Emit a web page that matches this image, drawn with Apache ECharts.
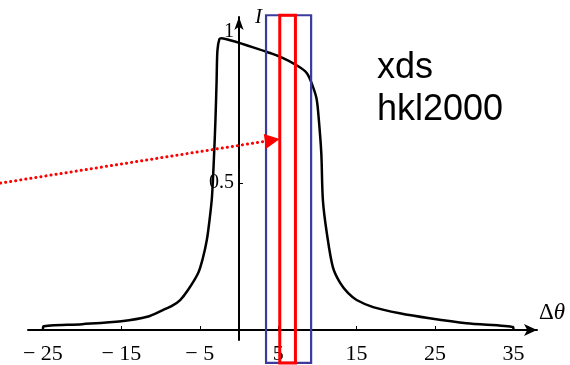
<!DOCTYPE html>
<html><head><meta charset="utf-8">
<script src="https://cdn.jsdelivr.net/npm/echarts@6/dist/echarts.min.js"></script>
<style>html,body{margin:0;padding:0;background:#fff}#c{width:570px;height:365px}</style>
</head><body><div id="c"></div>
<script>
// Rocking curve: intensity I vs delta theta
const curveX = [-25, -24.95, -20, -15, -11.7, -9.7, -8.5, -7.5, -6.5, -5.2, -4.6, -4.1, -3.75, -3.45, -3.2, -3.0, -2.85, -2.75, -2.5, -2.2, -1, 0.13, 2, 3.57, 5.22, 7.4, 8.66, 9.4, 9.9, 10.2, 10.5, 10.7, 11.2, 11.97, 12.9, 13.9, 15.0, 17.1, 20.5, 24.3, 29, 34.95, 35];
const curveY = [0, 0.012, 0.02, 0.03, 0.045, 0.068, 0.083, 0.102, 0.136, 0.194, 0.245, 0.306, 0.375, 0.45, 0.58, 0.714, 0.85, 0.95, 0.99, 0.993, 0.985, 0.976, 0.96, 0.946, 0.93, 0.9, 0.874, 0.83, 0.786, 0.71, 0.6, 0.442, 0.33, 0.214, 0.16, 0.126, 0.102, 0.078, 0.057, 0.04, 0.023, 0.01, 0];

const xLabelValues = [-25, -15, -5, 5, 15, 25, 35];
const xTickValues = [-15, -5, 5, 15, 25];
const yLabelValues = [0.5, 1];
const yTickValues = [0.5];

// integration windows (delta theta ranges) and their vertical extent
const blueBoxX = [3.45, 9.2];
const redBoxX = [5.2, 7.2];
const boxY = [-0.112, 1.071];

// dotted arrow pointing at the narrow window
const arrowFrom = [-30.4, 0.5];
const arrowTo = [5.2, 0.65];

const notes = ['xds', 'hkl2000'];

const chart = echarts.init(document.getElementById('c'), null, {renderer: 'canvas'});
const serif = '"Liberation Serif", "DejaVu Serif", serif';

const curveData = curveX.map((x, i) => [x, curveY[i]]);

const option = {
  animation: false,
  backgroundColor: '#fff',
  grid: {left: 28, right: 33, top: 17, bottom: 25, containLabel: false, outerBoundsMode: 'none'},
  xAxis: {
    type: 'value', min: -26.9, max: 38,
    name: '{d|Δ}{t|θ}',
    nameLocation: 'end', nameGap: 2,
    nameTextStyle: {
      align: 'left', verticalAlign: 'bottom', padding: [0, 0, 6, 0],
      rich: {
        d: {fontFamily: serif, fontSize: 23, color: '#000'},
        t: {fontFamily: serif, fontSize: 23, fontStyle: 'italic', color: '#000'}
      }
    },
    axisLine: {onZero: true, lineStyle: {color: '#000', width: 2}, symbol: ['none', 'arrow'], symbolSize: [9, 13]},
    axisTick: {show: true, inside: true, length: 4, customValues: xTickValues, lineStyle: {color: '#000', width: 1}},
    axisLabel: {
      customValues: xLabelValues,
      formatter: v => v < 0 ? '\u2212 ' + (-v) : String(v),
      fontFamily: serif, fontSize: 22, color: '#000', margin: 3
    },
    splitLine: {show: false}
  },
  yAxis: {
    type: 'value', min: -0.034, max: 1.065,
    name: 'I', nameLocation: 'end', nameGap: 0,
    nameTextStyle: {fontFamily: serif, fontSize: 21, fontStyle: 'italic', color: '#000', align: 'left', verticalAlign: 'middle', padding: [0, 0, 0, 16]},
    axisLine: {onZero: true, lineStyle: {color: '#000', width: 2}, symbol: ['none', 'arrow'], symbolSize: [7, 13]},
    axisTick: {show: true, inside: true, length: 4, customValues: yTickValues, lineStyle: {color: '#000', width: 1}},
    axisLabel: {
      customValues: yLabelValues,
      formatter: v => v === 1 ? '{up|1}' : String(v),
      rich: {up: {fontFamily: serif, fontSize: 20, color: '#000', padding: [0, 0, 9, 0]}},
      fontFamily: serif, fontSize: 20, color: '#000', margin: -206
    },
    splitLine: {show: false}
  },
  series: [
    {
      type: 'line', data: curveData, showSymbol: false, smooth: 0.3,
      lineStyle: {color: '#000', width: 2.5}, z: 3
    },
    {
      type: 'custom', clip: false, z: 5,
      data: [[blueBoxX[0], blueBoxX[1], 0], [redBoxX[0], redBoxX[1], 1]],
      renderItem: (params, api) => {
        const p0 = api.coord([api.value(0), boxY[1]]);
        const p1 = api.coord([api.value(1), boxY[0]]);
        const red = api.value(2) === 1;
        return {
          type: 'rect',
          shape: {x: p0[0], y: p0[1], width: p1[0] - p0[0], height: p1[1] - p0[1]},
          style: {fill: 'none', stroke: red ? '#ff0000' : '#3b3b9e', lineWidth: red ? 3 : 2.2}
        };
      }
    },
    {
      type: 'custom', clip: false, z: 6,
      data: [[arrowFrom[0], arrowFrom[1], arrowTo[0], arrowTo[1]]],
      renderItem: (params, api) => {
        const a = api.coord([api.value(0), api.value(1)]);
        const b = api.coord([api.value(2), api.value(3)]);
        const dx = b[0] - a[0], dy = b[1] - a[1];
        const L = Math.sqrt(dx * dx + dy * dy);
        const ux = dx / L, uy = dy / L;
        const hl = 15, hw = 7.5;
        const base = [b[0] - ux * hl, b[1] - uy * hl];
        return {
          type: 'group',
          children: [
            {type: 'polyline', shape: {points: [a, base]},
             style: {stroke: '#ff0000', lineWidth: 3, lineDash: [0.1, 5], lineCap: 'round', fill: null}},
            {type: 'polygon', shape: {points: [b, [base[0] - uy * hw, base[1] + ux * hw], [base[0] + uy * hw, base[1] - ux * hw]]},
             style: {fill: '#ff0000'}}
          ]
        };
      }
    }
  ],
  graphic: notes.map((t, i) => ({
    type: 'text', left: 377, top: 50 + i * 42,
    style: {text: t, fontFamily: '"Liberation Sans", Arial, sans-serif', fontSize: 36, fill: '#000'}
  }))
};
chart.setOption(option);
</script>
</body></html>
